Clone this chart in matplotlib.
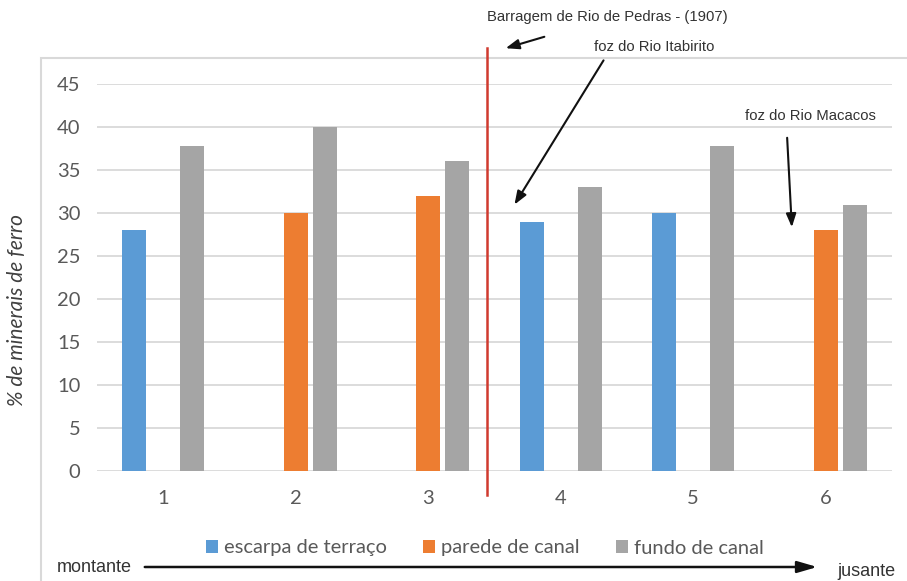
import numpy as np
import matplotlib.pyplot as plt
from matplotlib.patches import Rectangle
from matplotlib.lines import Line2D

# dados (% de minerais de ferro)
pontos = [1, 2, 3, 4, 5, 6]
escarpa_terraco = [28, np.nan, np.nan, 29, 30, np.nan]
parede_canal = [np.nan, 30, 32, np.nan, np.nan, 28]
fundo_canal = [37.8, 40, 36, 33, 37.8, 30.9]
nomes = ['escarpa de terraço', 'parede de canal', 'fundo de canal']
cores = ['#5B9BD5', '#ED7D31', '#A5A5A5']

W, H = 907, 581
plt.rcParams['font.family'] = ['Lato', 'DejaVu Sans']


def fig_xy(x, y):
    # pixel da imagem (origem no topo) -> fração da figura
    return x / W, 1 - y / H


fig = plt.figure(figsize=(W / 100, H / 100), dpi=100)

# moldura clara da área do gráfico
fig.add_artist(Rectangle(fig_xy(41, 600), (W + 20 - 41) / W, (600 - 58) / H,
                         transform=fig.transFigure, fill=False,
                         edgecolor='#D9D9D9', linewidth=1.5))

x0, y0 = fig_xy(97, 471)
x1, y1 = fig_xy(892, 84)
ax = fig.add_axes([x0, y0, x1 - x0, y1 - y0])

x = np.array(pontos)
largura = 0.18
desloc = 0.22
for i, (vals, nome, cor) in enumerate(zip([escarpa_terraco, parede_canal, fundo_canal], nomes, cores)):
    ax.bar(x + (i - 1) * desloc, vals, width=largura, color=cor, label=nome, zorder=3)

ax.set_xlim(0.5, 6.5)
ax.set_ylim(0, 45)
ax.set_yticks(range(0, 50, 5))
ax.set_xticks(pontos)
ax.grid(axis='y', color='#D9D9D9', linewidth=1.3, zorder=0)
ax.set_axisbelow(True)
for s in ax.spines.values():
    s.set_visible(False)
ax.tick_params(length=0, labelsize=14.5, labelcolor='#595959')
ax.tick_params(axis='y', pad=12)
ax.tick_params(axis='x', pad=14)

fig.text(*fig_xy(17, 310), '% de minerais de ferro', rotation=90, style='italic',
         fontsize=15, color='#404040', ha='center', va='center')

# linha da barragem
xl, _ = fig_xy(487, 0)
fig.add_artist(Line2D([xl, xl], [fig_xy(0, 48)[1], fig_xy(0, 495)[1]],
                      transform=fig.transFigure, color='#D03A2F', linewidth=1.8))

arial = ['Liberation Sans', 'DejaVu Sans']
cor_txt = '#333333'
fig.text(*fig_xy(607, 17), 'Barragem de Rio de Pedras - (1907)', family=arial,
         fontsize=10.7, color=cor_txt, ha='center', va='center')
fig.text(*fig_xy(654, 47), 'foz do Rio Itabirito', family=arial,
         fontsize=10.7, color=cor_txt, ha='center', va='center')
fig.text(*fig_xy(810, 116), 'foz do Rio Macacos', family=arial,
         fontsize=10.7, color=cor_txt, ha='center', va='center')

seta = dict(arrowstyle='-|>,head_length=0.8,head_width=0.3', color='#111111', lw=1.5)
for (xa, ya), (xb, yb) in [((547, 36), (503, 49)),
                           ((605, 58), (513, 207)),
                           ((787, 135), (792, 230))]:
    ax.annotate('', xy=fig_xy(xb, yb), xytext=fig_xy(xa, ya),
                xycoords='figure fraction', textcoords='figure fraction',
                arrowprops=seta, annotation_clip=False)

# montante -> jusante
fig.text(*fig_xy(57, 567), 'montante', family=arial, fontsize=13,
         color=cor_txt, ha='left', va='center')
fig.text(*fig_xy(837, 571), 'jusante', family=arial, fontsize=13,
         color=cor_txt, ha='left', va='center')
ax.annotate('', xy=fig_xy(820, 567), xytext=fig_xy(142, 567),
            xycoords='figure fraction', textcoords='figure fraction',
            arrowprops=dict(arrowstyle='-|>,head_length=1.2,head_width=0.35',
                            color='#111111', lw=1.8),
            annotation_clip=False)

fig.legend(loc='center', bbox_to_anchor=fig_xy(485, 548), ncol=3, frameon=False,
           fontsize=14.5, labelcolor='#595959', handlelength=0.6, handleheight=0.6,
           handletextpad=0.3, columnspacing=1.8)

fig.savefig('out.png', dpi=100)
